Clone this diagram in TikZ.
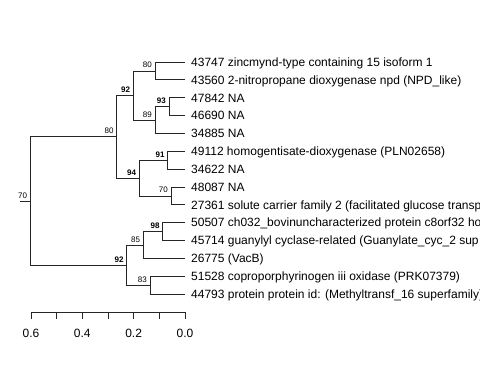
\documentclass[tikz,border=0pt]{standalone}
\usepackage{fontspec}
\setmainfont{Liberation Sans}
\usepackage{tikz}
\usetikzlibrary{positioning, calc}

\tikzset{
    edge/.style={line width=0.8pt, black!85},
    tip/.style={anchor=base west, inner sep=0pt, font=\fontsize{12}{14}\selectfont},
    boot/.style={anchor=base east, inner sep=0pt, font=\fontsize{8}{9}\selectfont},
    bootb/.style={boot, font=\fontsize{8}{9}\selectfont\bfseries}
}

\begin{document}
\begin{tikzpicture}[x=1pt, y=-1pt]
    \clip (0,0) rectangle (480,384);

    % Leaves
    \coordinate (l1) at (185,62);
    \coordinate (l2) at (185,79.85);
    \coordinate (l3) at (185,97.7);
    \coordinate (l4) at (185,115.55);
    \coordinate (l5) at (185,133.4);
    \coordinate (l6) at (185,151.25);
    \coordinate (l7) at (185,169.1);
    \coordinate (l8) at (185,186.95);
    \coordinate (l9) at (185,204.8);
    \coordinate (l10) at (185,222.65);
    \coordinate (l11) at (185,240.5);
    \coordinate (l12) at (185,258.35);
    \coordinate (l13) at (185,276.2);
    \coordinate (l14) at (185,294.05);

    % Leaf labels (cut at the right edge, as printed)
    \node[tip] (lab1) at ($(l1)+(6,4.3)$) {43747 zincmynd-type containing 15 isoform 1};
    \node[tip] (lab2) at ($(l2)+(6,4.3)$) {43560 2-nitropropane dioxygenase npd (NPD\_like)};
    \node[tip] (lab3) at ($(l3)+(6,4.3)$) {47842 NA};
    \node[tip] (lab4) at ($(l4)+(6,4.3)$) {46690 NA};
    \node[tip] (lab5) at ($(l5)+(6,4.3)$) {34885 NA};
    \node[tip] (lab6) at ($(l6)+(6,4.3)$) {49112 homogentisate-dioxygenase (PLN02658)};
    \node[tip] (lab7) at ($(l7)+(6,4.3)$) {34622 NA};
    \node[tip] (lab8) at ($(l8)+(6,4.3)$) {48087 NA};
    \node[tip] (lab9) at ($(l9)+(6,4.3)$) {27361 solute carrier family 2 (facilitated glucose transp};
    \node[tip] (lab10) at ($(l10)+(6,4.3)$) {50507 ch032\_bovinuncharacterized protein c8orf32 ho};
    \node[tip] (lab11) at ($(l11)+(6,4.3)$) {45714 guanylyl cyclase-related (Guanylate\_cyc\_2 sup};
    \node[tip] (lab12) at ($(l12)+(6,4.3)$) {26775 (VacB)};
    \node[tip] (lab13) at ($(l13)+(6,4.3)$) {51528 coproporphyrinogen iii oxidase (PRK07379)};
    \node[tip] (lab14) at ($(l14)+(6,4.3)$) {44793 protein protein id: (Methyltransf\_16 superfamily)};

    % Internal nodes
    \coordinate (root) at (30.7,200.9);
    \coordinate (stub) at (20,200.9);
    \coordinate (n80) at (116.7,136.7);
    \coordinate (n92a) at (133.3,95.5);
    \coordinate (n80s) at (155,70.9);
    \coordinate (n89) at (155,120);
    \coordinate (n93) at (169,106.6);
    \coordinate (n94) at (139.3,178);
    \coordinate (n91) at (167.7,160.2);
    \coordinate (n70) at (171,195.9);
    \coordinate (n92b) at (126.7,265);
    \coordinate (n85) at (143.3,245);
    \coordinate (n98) at (162.7,231.6);
    \coordinate (n83) at (150,285.1);

    % Edges
    \draw[edge] (stub) -- (root);
    \draw[edge] (root) |- (n80);
    \draw[edge] (root) |- (n92b);
    \draw[edge] (n80) |- (n92a);
    \draw[edge] (n80) |- (n94);
    \draw[edge] (n92a) |- (n80s);
    \draw[edge] (n92a) |- (n89);
    \draw[edge] (n80s) |- (l1);
    \draw[edge] (n80s) |- (l2);
    \draw[edge] (n89) |- (n93);
    \draw[edge] (n89) |- (l5);
    \draw[edge] (n93) |- (l3);
    \draw[edge] (n93) |- (l4);
    \draw[edge] (n94) |- (n91);
    \draw[edge] (n94) |- (n70);
    \draw[edge] (n91) |- (l6);
    \draw[edge] (n91) |- (l7);
    \draw[edge] (n70) |- (l8);
    \draw[edge] (n70) |- (l9);
    \draw[edge] (n92b) |- (n85);
    \draw[edge] (n92b) |- (n83);
    \draw[edge] (n85) |- (n98);
    \draw[edge] (n85) |- (l12);
    \draw[edge] (n98) |- (l10);
    \draw[edge] (n98) |- (l11);
    \draw[edge] (n83) |- (l13);
    \draw[edge] (n83) |- (l14);

    % Support values
    \node[boot] (b-root) at ($(root)+(-3.4,-2.6)$) {70};
    \node[boot] (b80) at ($(n80)+(-3,-3)$) {80};
    \node[bootb] (b92a) at ($(n92a)+(-3,-3)$) {92};
    \node[boot] (b80s) at ($(n80s)+(-3,-3)$) {80};
    \node[boot] (b89) at ($(n89)+(-3,-3)$) {89};
    \node[bootb] (b93) at ($(n93)+(-3,-3)$) {93};
    \node[bootb] (b94) at ($(n94)+(-3,-3)$) {94};
    \node[bootb] (b91) at ($(n91)+(-3,-3)$) {91};
    \node[boot] (b70) at ($(n70)+(-3,-3)$) {70};
    \node[bootb] (b92b) at ($(n92b)+(-3,-3)$) {92};
    \node[boot] (b85) at ($(n85)+(-3,-3)$) {85};
    \node[bootb] (b98) at ($(n98)+(-3,-3)$) {98};
    \node[boot] (b83) at ($(n83)+(-3,-3)$) {83};

    % Scale axis
    \draw[edge] (31,312) -- (185,312);
    \foreach \t in {0,...,6}
        \draw[edge] ({185-\t*25.67},312) -- ({185-\t*25.67},319);
    \foreach \t/\v in {0/0.0, 2/0.2, 4/0.4, 6/0.6}
        \node[anchor=base, inner sep=0pt, font=\fontsize{12}{14}\selectfont] at ({185-\t*25.67},337.3) {\v};
\end{tikzpicture}
\end{document}
